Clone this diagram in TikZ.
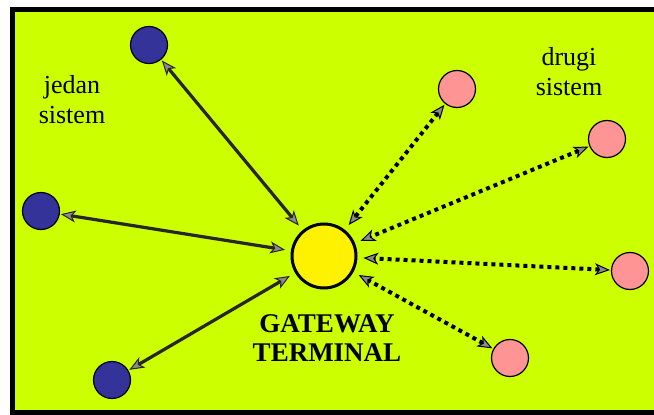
\documentclass[tikz,border=0pt]{standalone}
\usepackage{fontspec}
\setmainfont{Liberation Serif}
\usetikzlibrary{arrows.meta}
\definecolor{bg}{HTML}{CCFF00}
\definecolor{bluenode}{HTML}{333399}
\definecolor{pinknode}{HTML}{FF9494}
\tikzset{
  x=1pt, y=-1pt,
  bluec/.style={circle, draw=black, line width=1.2pt, fill=bluenode, minimum size=37pt, inner sep=0pt},
  pinkc/.style={circle, draw=black, line width=1.2pt, fill=pinknode, minimum size=37pt, inner sep=0pt},
  gatec/.style={circle, draw=black, line width=3pt, fill=yellow, minimum size=64pt, inner sep=0pt},
  gtip/.tip={Stealth[length=15pt,width=12pt,inset=4pt,fill=black!45,line width=1pt]},
  solidcon/.style={draw=black!85, line width=3.2pt, gtip-gtip, shorten <=1pt, shorten >=6pt},
  dotcon/.style={draw=black, line width=4pt, dash pattern=on 4pt off 4pt, gtip-gtip, shorten <=1pt, shorten >=6pt},
  lbl/.style={font=\fontsize{26}{30}\selectfont, align=center, text=black, inner sep=0pt},
  gwlbl/.style={font=\fontsize{27}{29}\selectfont\bfseries, align=center, inner sep=0pt}
}
\begin{document}
\begin{tikzpicture}
\useasboundingbox (0,0) rectangle (654,415);
\fill[white] (0,0) rectangle (654,415);
\fill[bg] (15,12) rectangle (654,410);
\fill[black] (10,7) rectangle (654,12);
\fill[black] (10,7) rectangle (15,415);
\fill[black] (10,410) rectangle (654,415);

\node[gatec] (g) at (324,256) {};
\node[bluec] (b1) at (149,45) {};
\node[bluec] (b2) at (41,211) {};
\node[bluec] (b3) at (112,380) {};
\node[pinkc] (p1) at (457,89) {};
\node[pinkc] (p2) at (607,139) {};
\node[pinkc] (p3) at (630,271) {};
\node[pinkc] (p4) at (510,358) {};

\draw[solidcon] (b1) -- (g);
\draw[solidcon] (b2) -- (g);
\draw[solidcon] (b3) -- (g);
\draw[dotcon] (p1) -- (g);
\draw[dotcon] (p2) -- (g);
\draw[dotcon] (p3) -- (g);
\draw[dotcon] (p4) -- (g);

\node[lbl] (l1) at (72,100) {jedan\\sistem};
\node[lbl] (l2) at (569,72) {drugi\\sistem};
\node[gwlbl] (gw) at (327,338) {GATEWAY\\TERMINAL};
\end{tikzpicture}
\end{document}
